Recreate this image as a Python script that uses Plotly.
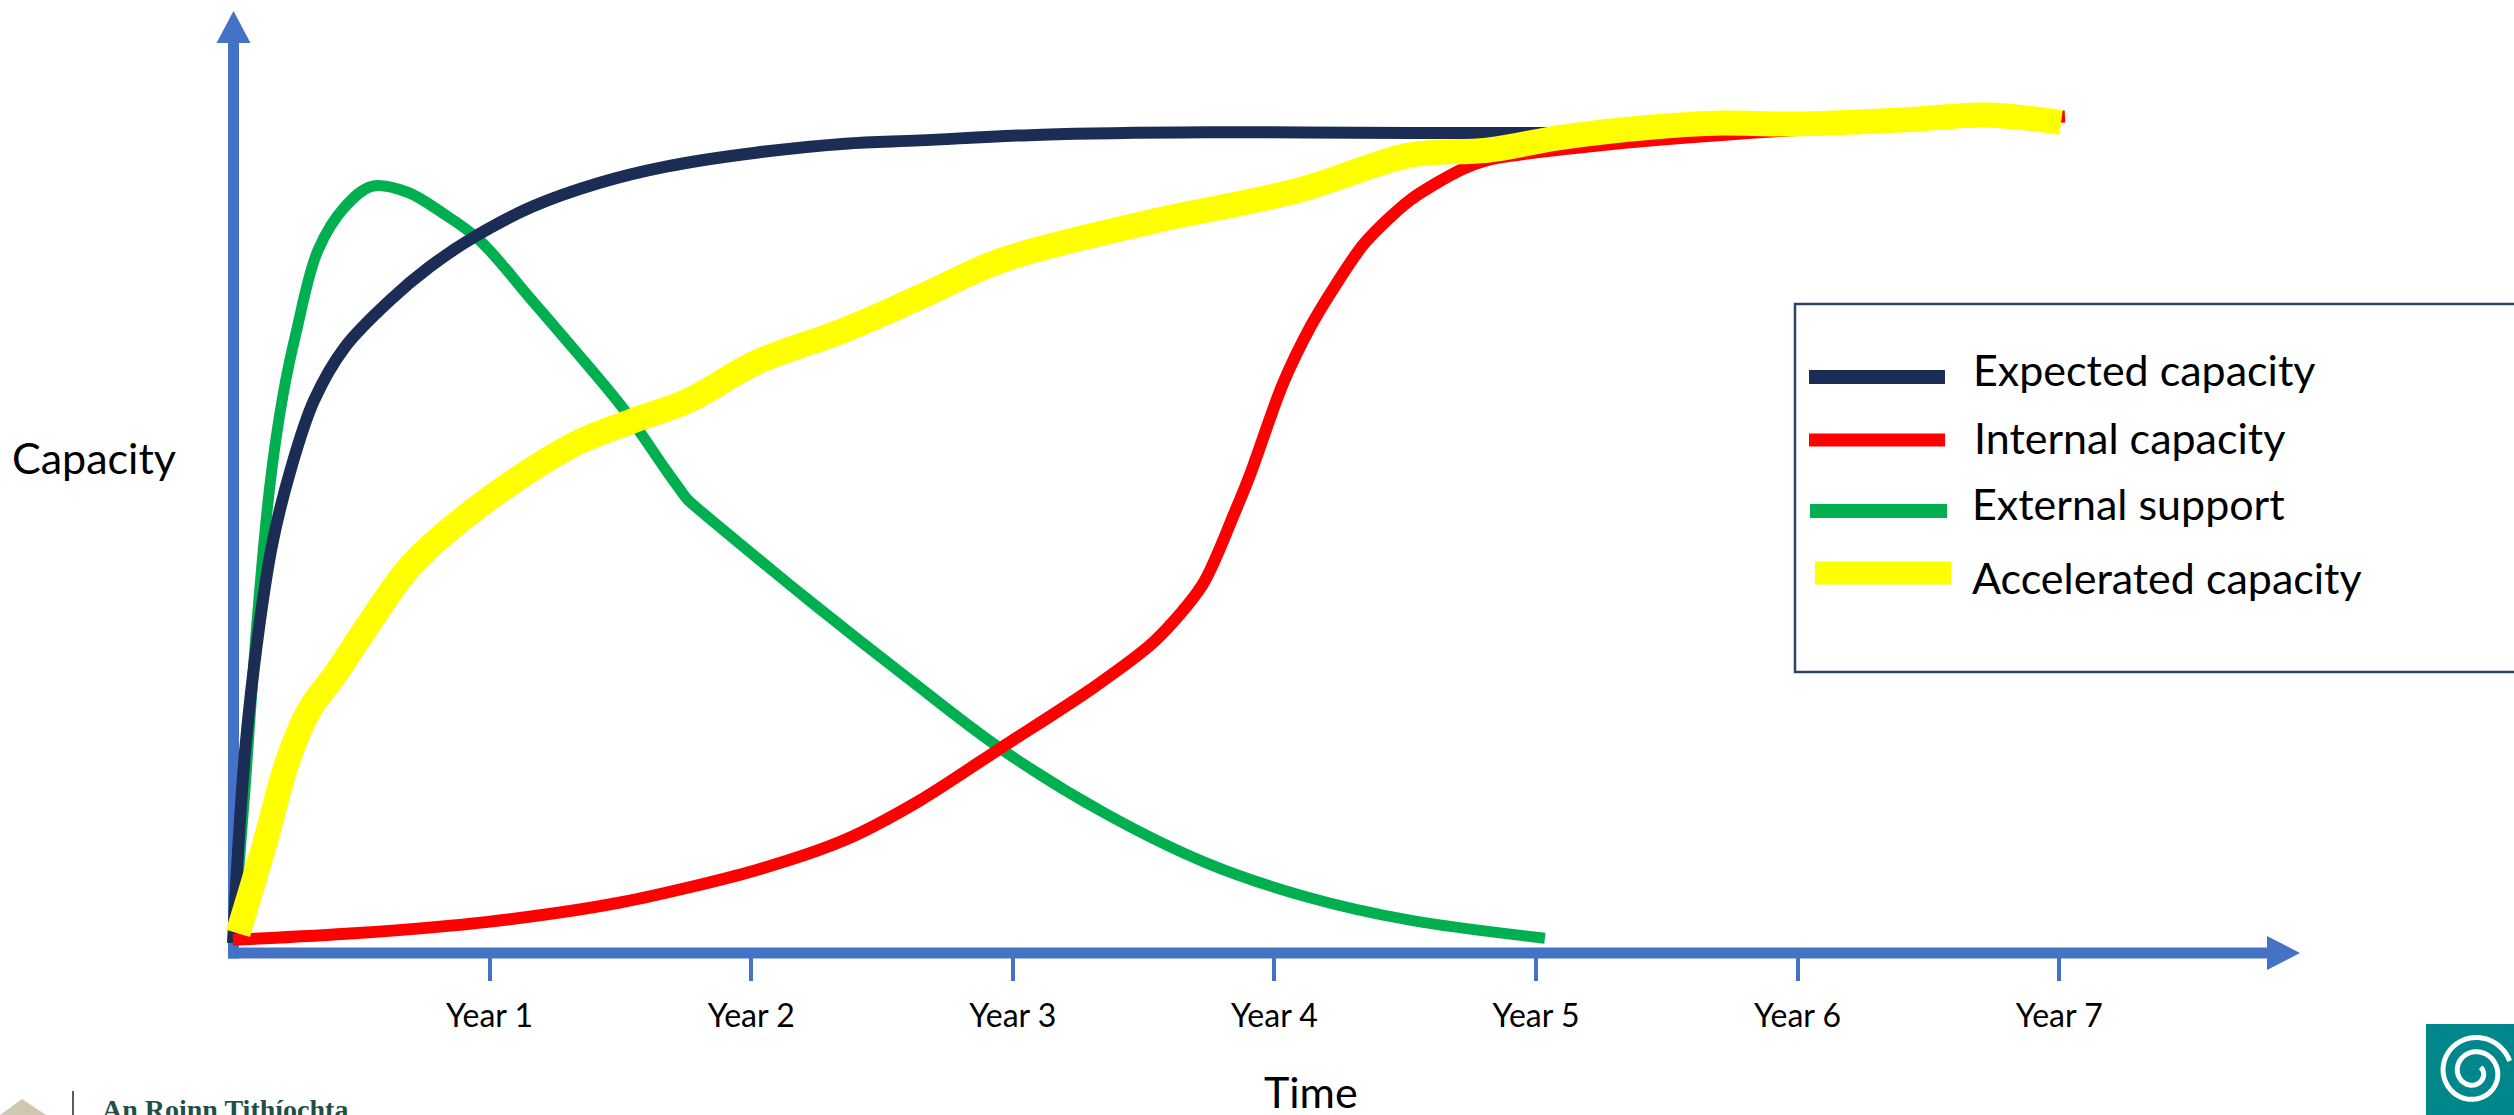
import numpy as np
import plotly.graph_objects as go

# ---------------------------------------------------------------------------
# Data: capacity (0-100 scale) against time in years
# ---------------------------------------------------------------------------
series_names = ["Expected capacity", "Internal capacity", "External support", "Accelerated capacity"]
series_colors = ["#1B2D54", "#FF0000", "#00B050", "#FFFF00"]

years_expected = [0.019, 0.065, 0.120, 0.170, 0.240, 0.329, 0.447, 0.619, 0.772, 0.940,
                  1.162, 1.418, 1.674, 2.018, 2.359, 2.645, 3.110, 3.739, 4.518, 5.100]
expected = [1.2, 24.5, 40.0, 50.0, 59.0, 67.4, 73.9, 79.6, 83.7, 87.3,
            91.0, 93.9, 95.9, 97.6, 98.7, 99.1, 99.8, 100.1, 100.0, 100.0]

years_internal = [0.019, 0.482, 0.994, 1.506, 2.018, 2.359, 2.645, 2.959, 3.296, 3.541,
                  3.725, 3.848, 3.909, 4.031, 4.140, 4.235, 4.343, 4.518, 4.713, 4.813,
                  5.245, 6.010, 6.580, 7.022]
internal = [1.6, 2.4, 3.8, 6.2, 10.1, 13.8, 18.6, 25.1, 32.1, 38.0,
            44.9, 53.7, 58.5, 69.3, 76.5, 81.5, 86.5, 91.8, 95.5, 96.7,
            98.5, 100.4, 101.3, 102.0]

years_external = [0.019, 0.065, 0.110, 0.160, 0.210, 0.260, 0.344, 0.447, 0.550, 0.684,
                  0.822, 0.959, 1.162, 1.334, 1.506, 1.674, 1.735, 1.751, 1.770, 2.018,
                  2.221, 2.607, 2.959, 3.349, 3.739, 4.128, 4.518, 5.034]
external = [1.2, 20.0, 40.0, 57.0, 68.0, 75.6, 85.7, 91.0, 93.5, 92.8,
            90.2, 87.0, 79.6, 73.2, 66.6, 58.9, 56.2, 55.5, 54.9, 48.3,
            43.0, 33.3, 24.8, 17.1, 11.0, 6.8, 4.0, 1.8]

years_accel = [0.038, 0.141, 0.226, 0.310, 0.413, 0.531, 0.684, 0.787, 1.028, 1.334,
               1.556, 1.762, 2.018, 2.359, 2.645, 2.959, 3.505, 4.090, 4.518, 4.813,
               5.103, 5.436, 5.680, 5.986, 6.411, 6.716, 7.007]
accel = [2.4, 13.4, 23.2, 29.6, 34.1, 39.8, 46.7, 50.0, 56.1, 62.2,
         65.0, 67.4, 72.0, 76.0, 80.0, 84.5, 89.0, 93.0, 97.3, 97.9,
         99.5, 100.7, 101.2, 101.1, 101.6, 102.2, 101.3]

year_ticks = [1, 2, 3, 4, 5, 6, 7]
year_labels = ["Year 1", "Year 2", "Year 3", "Year 4", "Year 5", "Year 6", "Year 7"]

# ---------------------------------------------------------------------------
# Canvas geometry (pixels)
# ---------------------------------------------------------------------------
W, H = 2514, 1115
AXIS_Y = 953          # pixel row of the time axis
ORIGIN_X = 228        # pixel column of year 0
PX_PER_YEAR = 261.6
PX_PER_UNIT = 8.2
AXIS_BLUE = "#4472C4"
FONT = "Lato"


def xp(px):
    return px / W


def yp(py):
    return (AXIS_Y - py) / AXIS_Y


fig = go.Figure()

curves = {
    "Expected capacity": (years_expected, expected, 12, 1.0),
    "Internal capacity": (years_internal, internal, 12, 0.8),
    "External support": (years_external, external, 11, 1.0),
    "Accelerated capacity": (years_accel, accel, 25, 1.0),
}
draw_order = ["External support", "Expected capacity", "Internal capacity", "Accelerated capacity"]
for name in draw_order:
    xs, ys, lw, smooth = curves[name]
    color = series_colors[series_names.index(name)]
    fig.add_trace(go.Scatter(
        x=xs, y=ys, mode="lines", name=name, showlegend=False,
        line=dict(color=color, width=lw, shape="spline", smoothing=smooth),
        hoverinfo="skip",
    ))

shapes = []
# axes drawn as thick arrows
shapes.append(dict(type="rect", xref="paper", yref="paper", layer="below",
                   x0=xp(228), x1=xp(239), y0=yp(958.5), y1=yp(43),
                   fillcolor=AXIS_BLUE, line=dict(width=0)))
shapes.append(dict(type="path", xref="paper", yref="paper", layer="below",
                   path=f"M {xp(216.5)},{yp(43)} L {xp(250.5)},{yp(43)} L {xp(233.5)},{yp(11)} Z",
                   fillcolor=AXIS_BLUE, line=dict(width=0)))
shapes.append(dict(type="rect", xref="paper", yref="paper", layer="below",
                   x0=xp(228), x1=xp(2267), y0=yp(958.5), y1=yp(947.5),
                   fillcolor=AXIS_BLUE, line=dict(width=0)))
shapes.append(dict(type="path", xref="paper", yref="paper", layer="below",
                   path=f"M {xp(2267)},{yp(936)} L {xp(2267)},{yp(970)} L {xp(2300)},{yp(953)} Z",
                   fillcolor=AXIS_BLUE, line=dict(width=0)))

# legend box and swatches
shapes.append(dict(type="rect", xref="paper", yref="paper",
                   x0=xp(1795), x1=xp(2540), y0=yp(672), y1=yp(304),
                   fillcolor="white", line=dict(color="#2F4264", width=2.5)))
swatches = [(1809, 1945, 377, 14), (1809, 1945, 440, 13), (1810, 1947, 511, 14), (1815, 1951, 573, 23)]
for (x0, x1, yc, th), color in zip(swatches, series_colors):
    shapes.append(dict(type="rect", xref="paper", yref="paper",
                       x0=xp(x0), x1=xp(x1), y0=yp(yc + th / 2), y1=yp(yc - th / 2),
                       fillcolor=color, line=dict(width=0)))

# department logo (bottom left)
shapes.append(dict(type="path", xref="paper", yref="paper",
                   path=f"M {xp(0)},{yp(1115)} L {xp(22)},{yp(1099)} L {xp(46)},{yp(1115)} Z",
                   fillcolor="#CFC7B2", line=dict(width=0)))
shapes.append(dict(type="line", xref="paper", yref="paper",
                   x0=xp(73), x1=xp(73), y0=yp(1091), y1=yp(1120),
                   line=dict(color="#5A5A5A", width=2)))

# spiral logo (bottom right)
shapes.append(dict(type="rect", xref="paper", yref="paper",
                   x0=xp(2426), x1=xp(2530), y0=yp(1130), y1=yp(1024),
                   fillcolor="#00878C", line=dict(width=0)))
theta = np.linspace(0.3, 4.2 * np.pi, 160)
r = 38 - 30 * theta / theta[-1]
sx = 2474 + r * np.cos(theta)
sy = 1072 - r * np.sin(theta)
spiral_path = "M " + " L ".join(f"{xp(a):.5f},{yp(b):.5f}" for a, b in zip(sx, sy))
shapes.append(dict(type="path", xref="paper", yref="paper", path=spiral_path,
                   line=dict(color="white", width=5)))

annotations = []
legend_text_pos = [(1971, 369), (1972, 437), (1970, 503), (1970, 577)]
for (tx, ty), name in zip(legend_text_pos, series_names):
    annotations.append(dict(xref="paper", yref="paper", x=xp(tx), y=yp(ty),
                            xanchor="left", yanchor="middle", showarrow=False, text=name,
                            font=dict(family=FONT, size=43, color="black")))
annotations.append(dict(xref="paper", yref="paper", x=xp(94), y=yp(457),
                        xanchor="center", yanchor="middle", showarrow=False, text="Capacity",
                        font=dict(family=FONT, size=43, color="black")))
annotations.append(dict(xref="paper", yref="paper", x=xp(1311), y=yp(1091),
                        xanchor="center", yanchor="middle", showarrow=False, text="Time",
                        font=dict(family=FONT, size=43, color="black")))
annotations.append(dict(xref="paper", yref="paper", x=xp(100), y=yp(1092),
                        xanchor="left", yanchor="top", showarrow=False, text="<b>An Roinn Tithíochta,</b>",
                        font=dict(family="Liberation Serif", size=28, color="#1F4F47")))

fig.update_layout(
    width=W, height=H,
    margin=dict(l=0, r=0, t=0, b=H - AXIS_Y, pad=0),
    paper_bgcolor="white", plot_bgcolor="rgba(0,0,0,0)",
    showlegend=False,
    shapes=shapes, annotations=annotations,
    xaxis=dict(range=[-ORIGIN_X / PX_PER_YEAR, (W - ORIGIN_X) / PX_PER_YEAR],
               tickvals=year_ticks, ticktext=year_labels,
               ticks="outside", ticklen=27, tickwidth=4, tickcolor=AXIS_BLUE,
               ticklabelstandoff=8,
               tickfont=dict(family=FONT, size=32, color="black"),
               showgrid=False, zeroline=False, showline=False, automargin=False,
               fixedrange=True),
    yaxis=dict(range=[0, AXIS_Y / PX_PER_UNIT], showticklabels=False, ticks="",
               showgrid=False, zeroline=False, showline=False, automargin=False,
               fixedrange=True),
)

fig.write_html("out.html")
